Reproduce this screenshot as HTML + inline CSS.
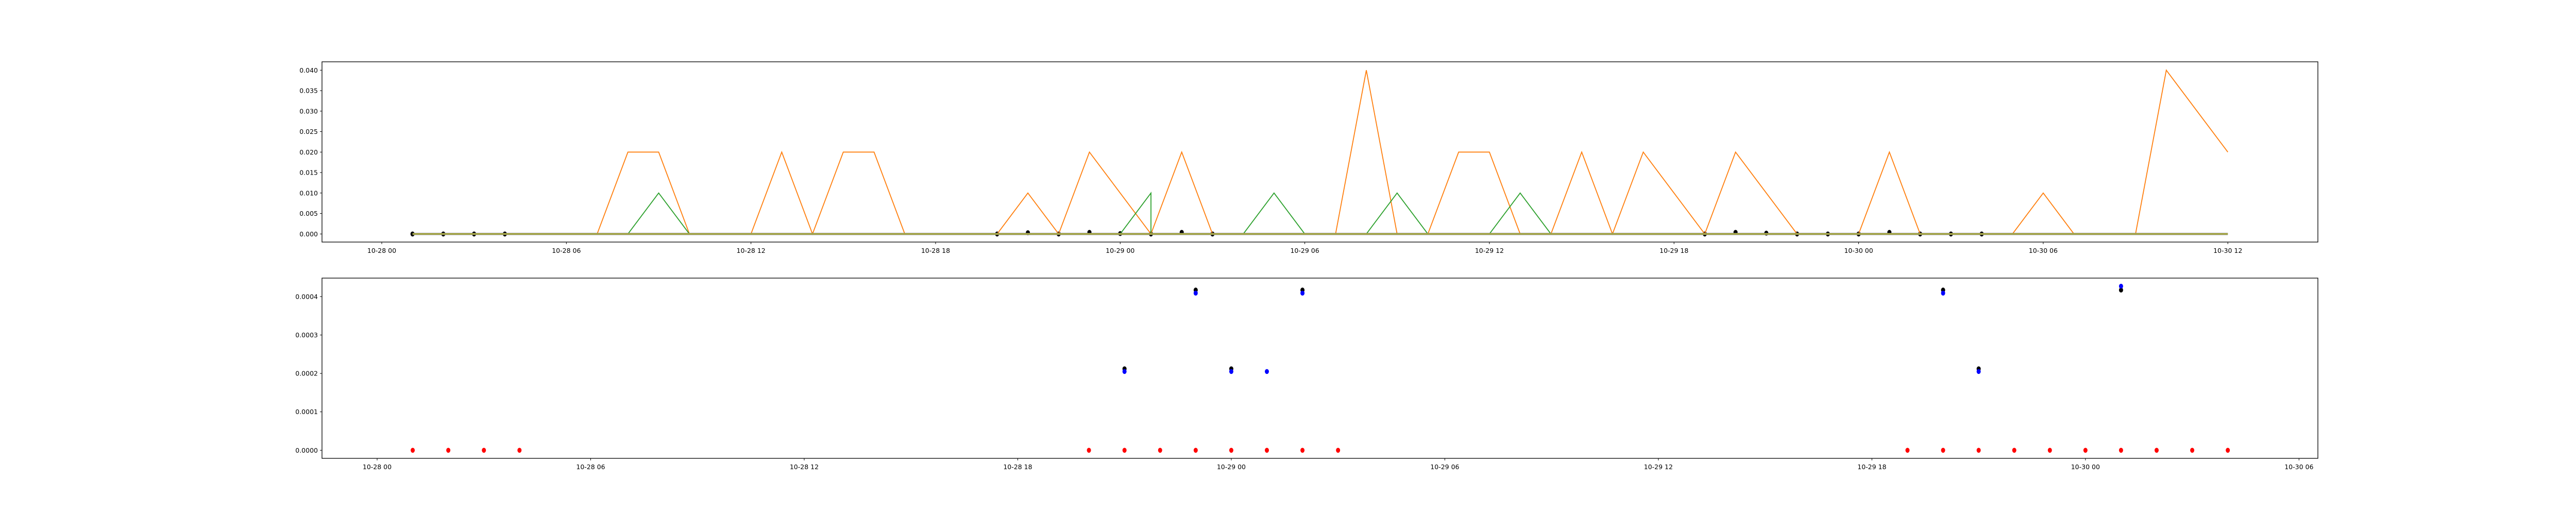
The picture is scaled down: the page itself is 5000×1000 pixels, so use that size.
<!DOCTYPE html>
<html><head><meta charset="utf-8"><style>
html,body{margin:0;padding:0;background:#fff;width:5000px;height:1000px;overflow:hidden}
svg text{font-family:"DejaVu Sans","Liberation Sans",sans-serif;font-size:12.5px;fill:#000}
</style></head><body>
<svg id="chart" width="5000" height="1000" xmlns="http://www.w3.org/2000/svg"></svg>
<script>
// ---- data ----
const topTickLabels = ["10-28 00","10-28 06","10-28 12","10-28 18","10-29 00","10-29 06","10-29 12","10-29 18","10-30 00","10-30 06","10-30 12"];
const bottomTickLabels = ["10-28 00","10-28 06","10-28 12","10-28 18","10-29 00","10-29 06","10-29 12","10-29 18","10-30 00","10-30 06"];
const topYTicks = [0,0.005,0.010,0.015,0.020,0.025,0.030,0.035,0.040];
const bottomYTicks = [0,0.0001,0.0002,0.0003,0.0004];
const orangeHours = [1,2,3,4,5,6,7,8,9,10,11,12,13,14,15,16,17,18,19,20,21,22,23,24,25,26,27,28,29,30,31,32,33,34,35,36,37,38,39,40,41,42,43,44,45,46,47,48,49,50,51,52,53,54,55,56,57,58,59,60];
const orangeValues = [0,0,0,0,0,0,0,0.02,0.02,0,0,0,0.02,0,0.02,0.02,0,0,0,0,0.01,0,0.02,0.01,0,0.02,0,0,0,0,0,0.04,0,0,0.02,0.02,0,0,0.02,0,0.02,0.01,0,0.02,0.01,0,0,0,0.02,0,0,0,0,0.01,0,0,0,0.04,0.03,0.02];
const greenHours = [1,8,9,10,24,25,25,28,29,30,32,33,34,36,37,38,60];
const greenValues = [0,0,0.01,0,0,0.01,0,0,0.01,0,0,0.01,0,0,0.01,0,0];
const flatHours = [1,60];
const flatValues = [0,0];
const dotHours = [1,2,3,4,20,21,22,23,24,25,26,27,43,44,45,46,47,48,49,50,51,52];
const topDotValues = [0,0,0,0,0,0.0003,0,0.0004,0.0001,0,0.0004,0,0,0.0004,0.0002,0,0,0,0.0004,0,0,0];
const redValues = [0,0,0,0,0,0,0,0,0,0,0,0,0,0,0,0,0,0,0,0,0,0];
const blackHours = [21,23,24,26,44,45,49];
const blackValues = [0.000212,0.000417,0.000212,0.000417,0.000417,0.000212,0.000417];
const blueHours = [21,23,24,25,26,44,45,49];
const blueValues = [0.000205,0.000409,0.000205,0.000205,0.000409,0.000409,0.000205,0.000427];

// ---- scales ----
const NS="http://www.w3.org/2000/svg";
const svg=document.getElementById('chart');
function mk(tag,attrs,parent){const e=document.createElementNS(NS,tag);for(const k in attrs)e.setAttribute(k,attrs[k]);(parent||svg).appendChild(e);return e;}
const tx=h=>741+h*59.72, ty=v=>454.3-v*7950;
const bx=h=>732+h*69.08, by=v=>874.3-v*746000;

function axes(name,x0,y0,x1,y1){
  const r=mk('rect',{x:x0,y:y0,width:x1-x0,height:y1-y0,fill:'none',stroke:'#000','stroke-width':1.3});
  
  
}
function xticks(labels,sx,yb,name){
  labels.forEach((l,i)=>{const x=sx(i*6);
    const t=mk('line',{x1:x,x2:x,y1:yb,y2:yb+4,stroke:'#000','stroke-width':1});
    
    
    const s=mk('text',{x:x,y:yb+21,'text-anchor':'middle'});s.textContent=l;
    
    
  });
}
function yticks(vals,sy,xl,dec,name){
  vals.forEach(v=>{const y=sy(v);
    const t=mk('line',{x1:xl-4,x2:xl,y1:y,y2:y,stroke:'#000','stroke-width':1});
    
    
    const s=mk('text',{x:xl-8,y:y+4.5,'text-anchor':'end'});s.textContent=v.toFixed(dec);
    
    
  });
}
function line(hs,vs,sx,sy,color,w,name){
  const p=mk('polyline',{points:hs.map((h,i)=>sx(h)+','+sy(vs[i])).join(' '),fill:'none',stroke:color,'stroke-width':w,'stroke-linejoin':'miter'});
  
  
}
function dots(hs,vs,sx,sy,color,name){
  hs.forEach((h,i)=>{const c=mk('ellipse',{cx:sx(h),cy:sy(vs[i]),rx:4,ry:4.8,fill:color});
    
    
  });
}

// ---- top chart ----
axes('top-axes',625,120,4499,470);
xticks(topTickLabels,tx,470,'top-x');
yticks(topYTicks,ty,625,3,'top-y');
dots(dotHours,topDotValues,tx,ty,'#000','top-black-point');
line(orangeHours,orangeValues,tx,ty,'#ff7f0e',1.8,'orange-series');
line(greenHours,greenValues,tx,ty,'#2ca02c',1.8,'green-series');
line(flatHours,flatValues,tx,ty,'#7f7f7f',4.2,'gray-series');
line(flatHours,flatValues,tx,ty,'#bcbd22',1.8,'olive-series');

// ---- bottom chart ----
axes('bottom-axes',625,540,4499,890);
xticks(bottomTickLabels,bx,890,'bottom-x');
yticks(bottomYTicks,by,625,4,'bottom-y');
dots(dotHours,redValues,bx,by,'#ff0000','red-point');
dots(blackHours,blackValues,bx,by,'#000','black-point');
dots(blueHours,blueValues,bx,by,'#0000ff','blue-point');
</script>
</body></html>
